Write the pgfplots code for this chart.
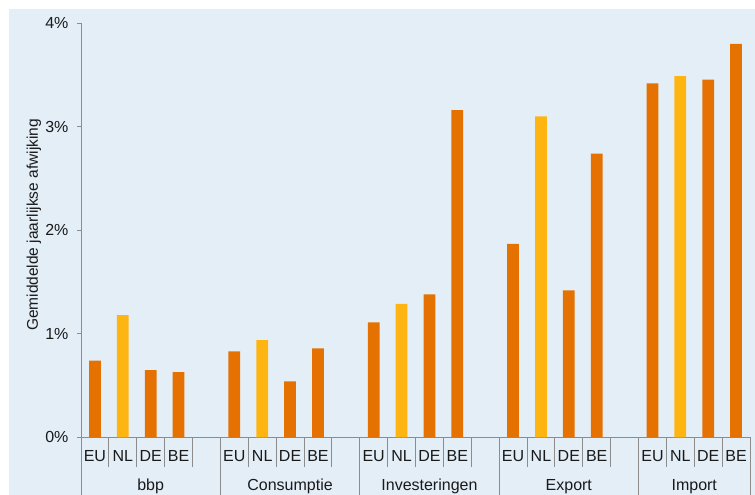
\documentclass[border=0pt]{standalone}
\usepackage{pgfplots}
\pgfplotsset{compat=1.18}
\usepackage{fontspec}
\setmainfont{Liberation Sans}

\definecolor{panel}{HTML}{E3EEF7}
\definecolor{barorange}{HTML}{E57200}
\definecolor{baryellow}{HTML}{FFB511}
\definecolor{rulegray}{HTML}{8C8C8C}
\definecolor{ink}{HTML}{1A1A1A}

\begin{document}
\begin{tikzpicture}
\path[use as bounding box] (0pt,0pt) rectangle (755pt,495pt);
\fill[panel] (9pt,0pt) rectangle (755pt,486pt);
\begin{axis}[
  at={(81pt,57.7pt)}, anchor=south west,
  scale only axis, width=669pt, height=414pt,
  xmin=0, xmax=24, ymin=0, ymax=4,
  clip=false,
  axis lines*=left,
  axis line style={rulegray, line width=0.9pt},
  tick align=outside,
  major tick length=4pt,
  ytick={0,1,2,3,4},
  yticklabels={0\%,1\%,2\%,3\%,4\%},
  ytick style={rulegray, line width=0.9pt},
  yticklabel style={xshift=-5pt},
  xtick style={draw=none},
  xtick={0.5,1.5,2.5,3.5,5.5,6.5,7.5,8.5,10.5,11.5,12.5,13.5,15.5,16.5,17.5,18.5,20.5,21.5,22.5,23.5},
  xticklabels={EU,NL,DE,BE,EU,NL,DE,BE,EU,NL,DE,BE,EU,NL,DE,BE,EU,NL,DE,BE},
  xticklabel style={anchor=base, yshift=-20.5pt},
  extra x ticks={2.5,7.5,12.5,17.5,22},
  extra x tick labels={bbp,Consumptie,Investeringen,Export,Import},
  extra x tick style={xtick style={draw=none}, xticklabel style={yshift=-29pt}},
  tick label style={font=\fontsize{16}{19}\selectfont, text=ink},
  ylabel={Gemiddelde jaarlijkse afwijking},
  every axis y label/.style={at={(axis description cs:-0.0703,0.5128)}, anchor=center, rotate=90, font=\fontsize{15.5}{18}\selectfont, text=ink},
  ybar, bar width=11.7pt, bar shift=0pt,
]
% EU, DE and BE
\addplot[fill=barorange, draw=none] coordinates {
  (0.5,0.74) (2.5,0.65) (3.5,0.63)
  (5.5,0.83) (7.5,0.54) (8.5,0.86)
  (10.5,1.11) (12.5,1.38) (13.5,3.16)
  (15.5,1.87) (17.5,1.42) (18.5,2.74)
  (20.5,3.42) (22.5,3.455) (23.5,3.80)
};
% NL
\addplot[fill=baryellow, draw=none] coordinates {
  (1.5,1.18) (6.5,0.94) (11.5,1.29) (16.5,3.10) (21.5,3.49)
};
% short dividers between countries
\pgfplotsinvokeforeach{1,2,3,4,6,7,8,9,11,12,13,14,16,17,18,19,21,22,23}{
  \draw[rulegray, line width=0.9pt] (axis cs:#1,0) -- ++(0pt,-29.5pt);
}
% long dividers between groups
\pgfplotsinvokeforeach{0,5,10,15,20,24}{
  \draw[rulegray, line width=0.9pt] (axis cs:#1,0) -- ++(0pt,-58pt);
}
\end{axis}
\end{tikzpicture}
\end{document}
